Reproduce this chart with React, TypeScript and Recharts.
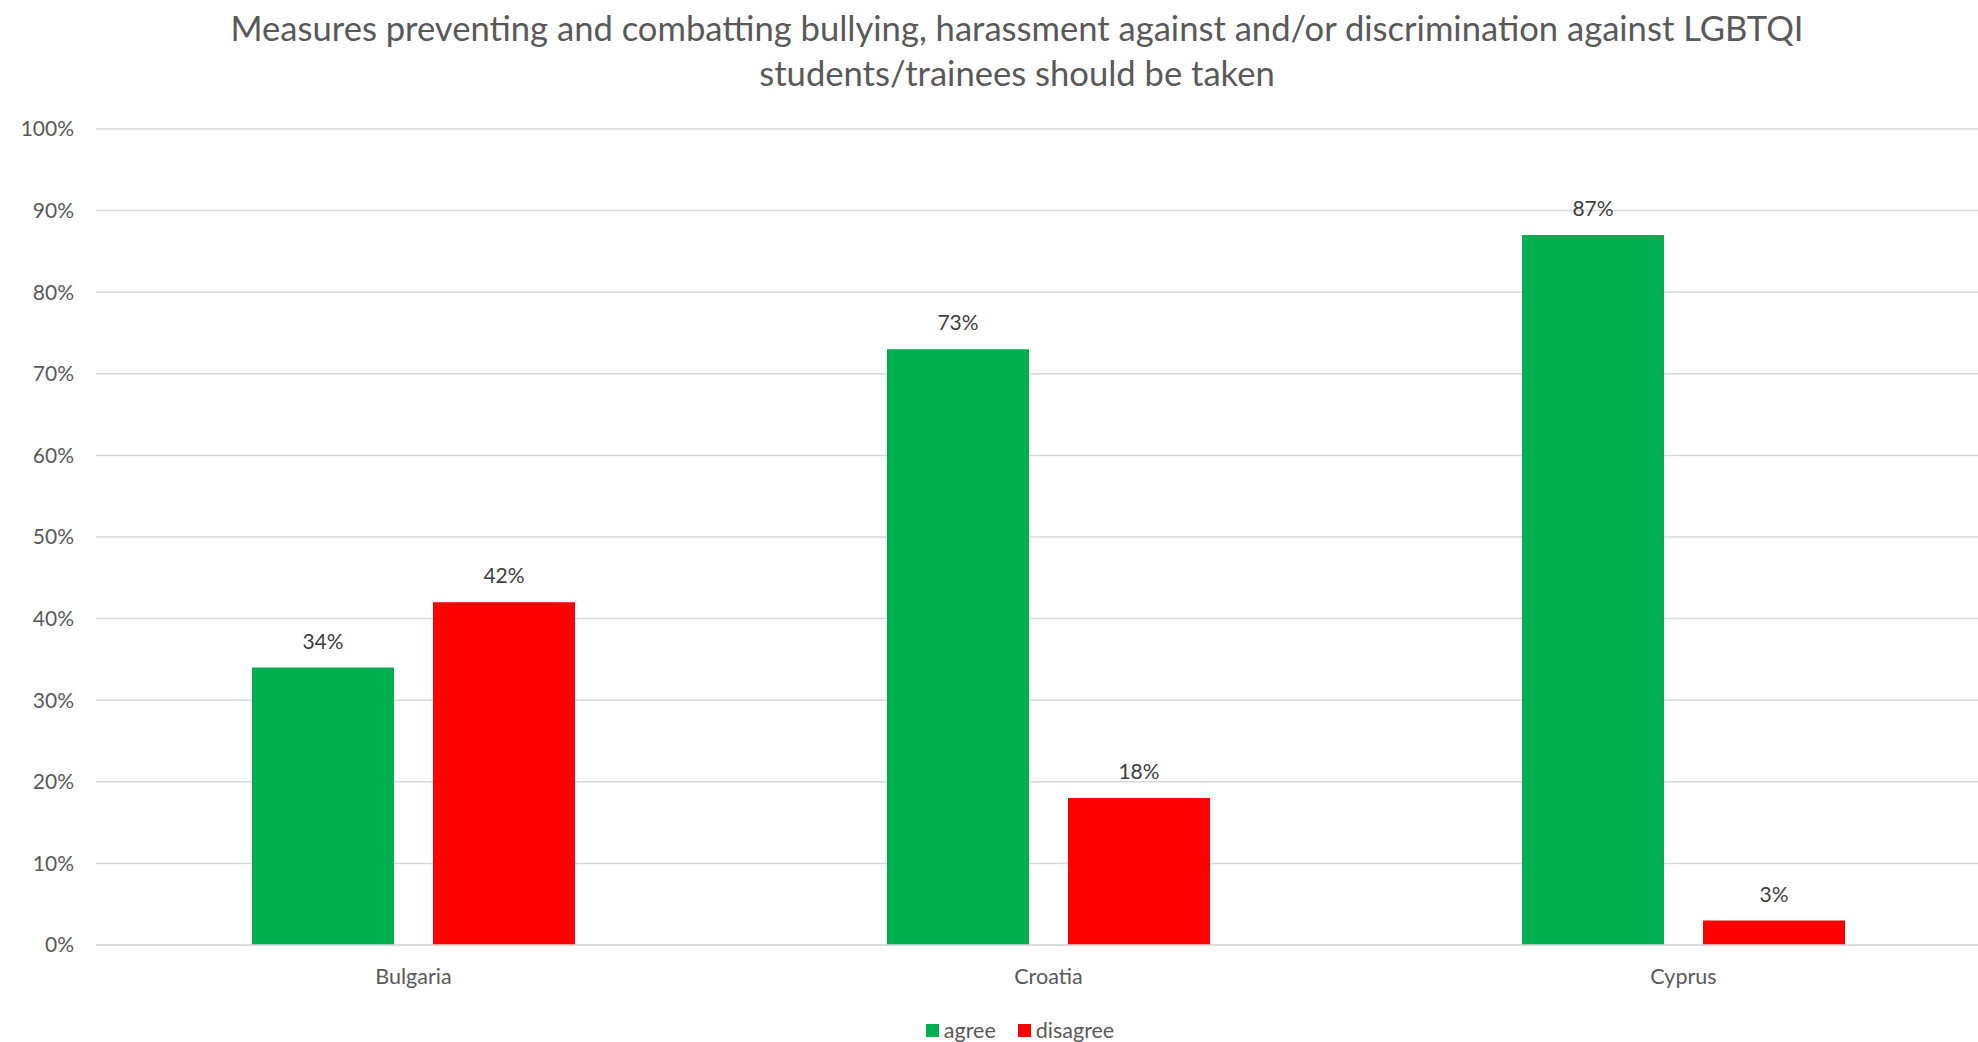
import React from 'react';
import { BarChart, Bar, XAxis, YAxis, CartesianGrid, Legend, LabelList } from 'recharts';

const categories = ['Bulgaria', 'Croatia', 'Cyprus'];
const agree = [34, 73, 87];
const disagree = [42, 18, 3];
const yTicks = [0, 10, 20, 30, 40, 50, 60, 70, 80, 90, 100];
const titleLines = [
  'Measures preventing and combatting bullying, harassment against and/or discrimination against LGBTQI',
  'students/trainees should be taken',
];
const seriesNames = ['agree', 'disagree'];
const colors = ['#00B050', '#FF0000'];

const data = categories.map((name, i) => ({ name, agree: agree[i], disagree: disagree[i] }));

const TEXT = '#595959';

const LegendContent = () => (
  <div
    style={{
      height: 30,
      display: 'flex',
      justifyContent: 'center',
      alignItems: 'center',
      paddingTop: 6,
      boxSizing: 'border-box',
      fontSize: 21.5,
      color: TEXT,
    }}
  >
    {seriesNames.map((n, i) => (
      <div key={n} style={{ display: 'flex', alignItems: 'center', marginRight: i === 0 ? 22 : 0 }}>
        <div style={{ width: 13, height: 13, background: colors[i], marginRight: 5 }} />
        <span>{n}</span>
      </div>
    ))}
  </div>
);

export default function App() {
  return (
    <div
      style={{
        position: 'fixed',
        left: 0,
        top: 0,
        width: 1978,
        height: 1042,
        overflow: 'hidden',
        background: '#fff',
        fontFamily: 'Lato, sans-serif',
      }}
    >
      <div
        style={{
          position: 'absolute',
          left: 0,
          top: 5,
          width: 2034,
          textAlign: 'center',
          fontSize: 34.6,
          lineHeight: '45px',
          color: TEXT,
          zIndex: 2,
        }}
      >
        {titleLines.map((t) => (
          <div key={t}>{t}</div>
        ))}
      </div>
      <BarChart
        width={2040}
        height={1042}
        data={data}
        margin={{ top: 129, right: 39, bottom: 0, left: 1 }}
        barGap={39}
        barSize={142}
      >
        <CartesianGrid vertical={false} stroke="#D9D9D9" strokeWidth={1.5} />
        <XAxis
          dataKey="name"
          axisLine={{ stroke: '#D9D9D9', strokeWidth: 1.5 }}
          tickLine={false}
          tickSize={0}
          tickMargin={24}
          height={67}
          tick={{ fill: TEXT, fontSize: 21.5 }}
        />
        <YAxis
          domain={[0, 100]}
          ticks={yTicks}
          tickFormatter={(v) => `${v}%`}
          axisLine={false}
          tickLine={false}
          tickSize={0}
          tickMargin={22}
          width={95}
          tick={{ fill: TEXT, fontSize: 21 }}
          interval={0}
        />
        <Legend
          verticalAlign="bottom"
          height={30}
          wrapperStyle={{ left: 0, width: 2040 }}
          content={() => <LegendContent />}
        />
        {seriesNames.map((n, i) => (
          <Bar key={n} dataKey={n} fill={colors[i]} isAnimationActive={false}>
            <LabelList
              dataKey={n}
              position="top"
              offset={19}
              formatter={(v: any) => `${v}%`}
              style={{ fill: '#404040', fontSize: 21 }}
            />
          </Bar>
        ))}
      </BarChart>
    </div>
  );
}
